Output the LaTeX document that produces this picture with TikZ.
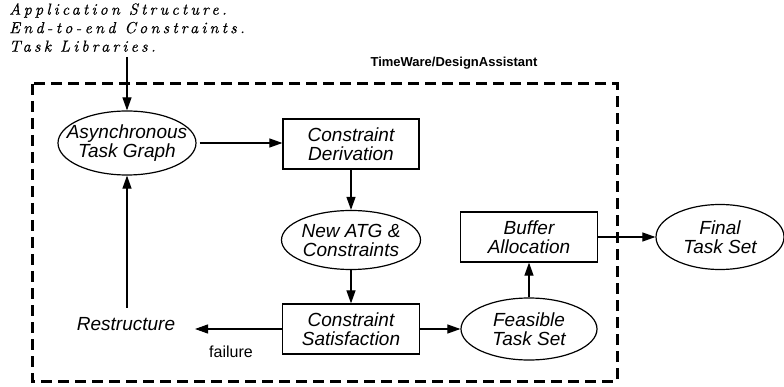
\documentclass[tikz,border=0pt]{standalone}
\usepackage{fontspec}
\setsansfont{Liberation Sans}
\newfontfamily\inputfont[LetterSpace=20,FakeBold=0.5]{lmroman10-italic.otf}
\usetikzlibrary{arrows.meta,shapes.geometric}
\begin{document}
\begin{tikzpicture}[x=1pt,y=-1pt,
  every node/.style={font=\sffamily\itshape\fontsize{19}{19}\selectfont, align=center},
  ell/.style={draw, ellipse, line width=1.2pt, inner sep=0pt},
  box/.style={draw, rectangle, line width=1.2pt, minimum width=136pt, minimum height=50pt, inner sep=2pt},
  arr/.style={-{Triangle[length=13pt,width=9pt]}, line width=1.1pt},
  frame/.style={line width=3pt, dash pattern=on 11pt off 6pt}]
\useasboundingbox (0,0) rectangle (784,387);

% outer dashed frame
\draw[frame] (32,84) rectangle (617,381);
\node[font=\sffamily\bfseries\fontsize{13}{13}\selectfont] (title) at (454,63) {TimeWare/DesignAssistant};

% inputs
\node[font=\inputfont\fontsize{16}{18.5}\selectfont, align=left, anchor=north west, inner sep=0pt] (inp) at (9,3)
  {Application Structure.\\End-to-end Constraints.\\Task Libraries.};
\coordinate (inend) at (127,57);

% nodes
\node[ell, minimum width=138pt, minimum height=64pt, label={center:Asynchronous\\Task Graph}] (atg) at (127,143) {};
\node[box] (cd) at (351,144) {Constraint\\Derivation};
\node[ell, minimum width=139pt, minimum height=59pt, label={center:New ATG \&\\Constraints}] (natg) at (351,240) {};
\node[box, minimum width=137pt] (cs) at (351,329) {Constraint\\Satisfaction};
\node[ell, minimum width=136pt, minimum height=62pt, label={center:Feasible\\Task Set}] (fts) at (529,329) {};
\node[box, minimum width=137pt] (ba) at (529,237) {Buffer\\Allocation};
\node[ell, minimum width=128pt, minimum height=65pt, label={center:Final\\Task Set}] (fin) at (720,237) {};
\node (rs) at (126,324) {Restructure};
\coordinate (rsend) at (195,329);
\node[font=\sffamily\fontsize{16}{16}\selectfont] (fail) at (231,352) {failure};

% connectors
\draw[arr] (inend) -- (atg.north);
\draw[arr, shorten <=3pt] (atg.east) -- (cd.west |- atg.east);
\draw[arr] (cd.south) -- (natg.north);
\draw[arr] (natg.south) -- (cs.north);
\draw[arr] (cs.east) -- (fts.west);
\draw[arr] (fts.north) -- (ba.south);
\draw[arr] (ba.east) -- (fin.west);
\draw[arr] (cs.west) -- (rsend);
\draw[arr, shorten <=6pt] (rs.north -| atg.south) -- (atg.south);
\end{tikzpicture}
\end{document}
